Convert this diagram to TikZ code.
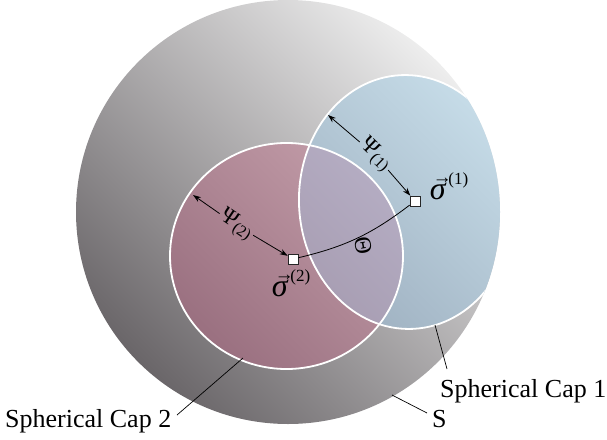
\documentclass[tikz,border=0pt]{standalone}
\usepackage{fontspec}
\setmainfont{Liberation Serif}
\usetikzlibrary{arrows.meta}
\definecolor{sLight}{HTML}{EDEDED}
\definecolor{sMid}{HTML}{AFAFAF}
\definecolor{sDark}{HTML}{6A6669}
\definecolor{pLight}{HTML}{C29CA8}
\definecolor{pDark}{HTML}{9A7080}
\definecolor{bLight}{HTML}{C6DCE8}
\definecolor{bDark}{HTML}{9FB1C1}
\definecolor{oLight}{HTML}{B4ACC2}
\definecolor{oDark}{HTML}{9C90A4}
\newcommand{\sigvec}[1]{%
  \makebox[0pt][l]{\raisebox{16pt}{\hspace{3pt}\fontsize{19}{19}\selectfont\bfseries →}}%
  {\fontsize{32}{34}\selectfont\itshape σ}%
  \raisebox{15pt}{\fontsize{17}{19}\selectfont\,(#1)}}
\tikzset{
  ptbox/.style={draw=black!85, fill=white, minimum size=10pt, inner sep=0pt, line width=0.7pt},
  lbl/.style={font=\fontsize{26}{28}\selectfont, inner sep=0pt},
  psilbl/.style={font=\fontsize{23}{25}\selectfont, inner sep=2pt},
  arr/.style={line width=0.8pt, -{Stealth[length=8pt,width=5.5pt]}},
  lead/.style={line width=0.7pt, black},
  capline/.style={draw=white, line width=1.8pt}
}
\begin{document}
\begin{tikzpicture}[x=1pt,y=-1pt]
\useasboundingbox (0,0) rectangle (607,439);
\begin{scope}
  \clip (288,212) circle (212);
  \shade[top color=sLight, middle color=sMid, bottom color=sDark, shading angle=-45] (288,212) circle (212);
  % cap 2 (pink)
  \shade[top color=pLight, bottom color=pDark, shading angle=-45] (286.5,256) ellipse [x radius=116.5, y radius=113];
  % cap 1 (blue)
  \shade[top color=bLight, bottom color=bDark, shading angle=-45] (407,202) ellipse [x radius=108, y radius=127, rotate=3];
  % overlap
  \begin{scope}
    \clip (407,202) ellipse [x radius=108, y radius=127, rotate=3];
    \shade[top color=oLight, bottom color=oDark, shading angle=-45] (286.5,256) ellipse [x radius=116.5, y radius=113];
  \end{scope}
  \draw[capline] (286.5,256) ellipse [x radius=116.5, y radius=113];
  \draw[capline] (407,202) ellipse [x radius=108, y radius=127, rotate=3];
\end{scope}

% points
\node[ptbox] (s1) at (415,201) {};
\node[ptbox] (s2) at (293,259) {};
\draw[line width=0.8pt] (s2) to[bend right=12] (s1);
\node[font=\fontsize{24}{26}\selectfont, rotate=-80] (theta) at (363,246) {Θ};

\node[inner sep=0pt] (sig1) at (449,186) {\sigvec{1}};
\node[inner sep=0pt] (sig2) at (291,283) {\sigvec{2}};

% Psi 1
\coordinate (c1) at (328,115);
\node[psilbl, rotate=-44] (psi1) at (375,155) {Ψ\raisebox{-0.25ex}{\fontsize{16}{17}\selectfont(1)}};
\draw[arr] (psi1) -- (c1);
\draw[arr] (psi1) -- (s1);

% Psi 2
\coordinate (c2) at (193,195);
\node[psilbl, rotate=-34] (psi2) at (236,225) {Ψ\raisebox{-0.25ex}{\fontsize{16}{17}\selectfont(2)}};
\draw[arr] (psi2) -- (c2);
\draw[arr] (psi2) -- (s2);

% labels
\node[lbl, anchor=base west] (cap1) at (440,397) {Spherical Cap 1};
\node[lbl, anchor=base west] (cap2) at (5,427) {Spherical Cap 2};
\node[lbl, anchor=base west] (slbl) at (432,427) {S};
\coordinate (l1a) at (435,325);
\coordinate (l1b) at (447,369);
\coordinate (l2a) at (243,358);
\coordinate (l2b) at (177,415);
\coordinate (l3a) at (392,395);
\coordinate (l3b) at (427,413);
\draw[lead] (l1a) -- (l1b);
\draw[lead] (l2a) -- (l2b);
\draw[lead] (l3a) -- (l3b);
\end{tikzpicture}
\end{document}
